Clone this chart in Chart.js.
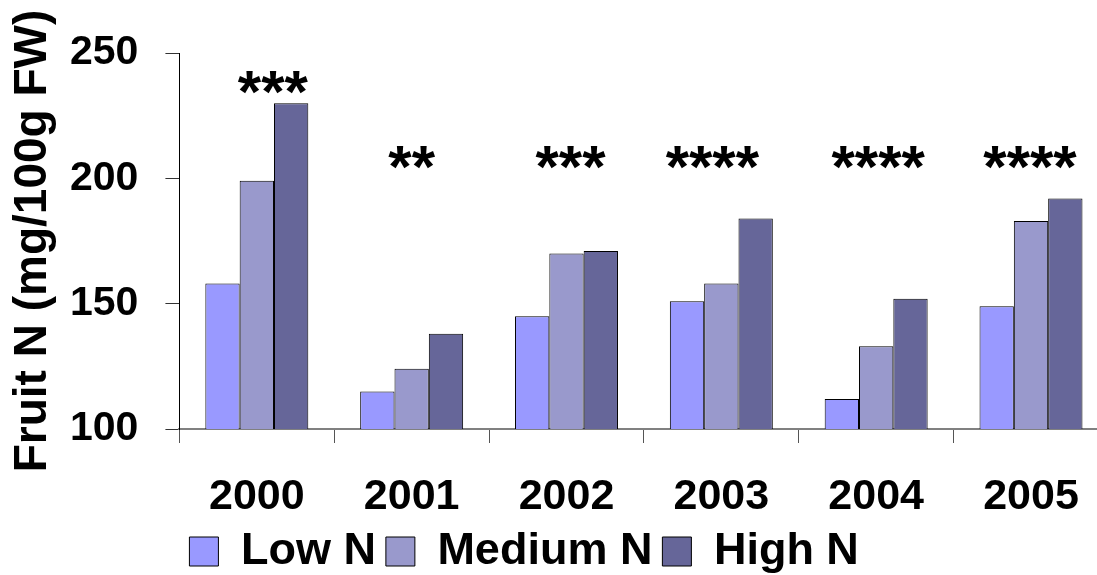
<!DOCTYPE html>
<html>
<head>
<meta charset="utf-8">
<script src="https://cdn.jsdelivr.net/npm/chart.js@4/dist/chart.umd.min.js"></script>
<style>
  html, body { margin: 0; padding: 0; background: #ffffff; overflow: hidden; }
  #wrap { width: 1097px; height: 575px; overflow: hidden; position: relative; }
  canvas { display: block; }
</style>
</head>
<body>
<div id="wrap"><canvas id="chart" width="1112" height="584"></canvas></div>
<script>
// Fruit nitrogen content by year and nitrogen treatment
const years = ['2000', '2001', '2002', '2003', '2004', '2005'];
const seriesNames = ['Low N', 'Medium N', 'High N'];
const lowN = [158, 115, 145, 151, 112, 149];
const mediumN = [199, 124, 170, 158, 133, 183];
const highN = [230, 138, 171, 184, 152, 192];
const significance = ['***', '**', '***', '****', '****', '****'];
const yTicks = [100, 150, 200, 250];

const FONT = '"Liberation Sans", Arial, Helvetica, sans-serif';

// Significance stars drawn above each year's group of bars
const starsPlugin = {
  id: 'stars',
  afterDatasetsDraw(chart, args, opts) {
    const { ctx, scales: { x, y } } = chart;
    ctx.save();
    ctx.font = 'bold 60px ' + FONT;
    ctx.fillStyle = '#000000';
    ctx.textAlign = 'center';
    ctx.textBaseline = 'alphabetic';
    const floorY = y.getPixelForValue(opts.floorValue);
    significance.forEach((s, i) => {
      const top = Math.max(lowN[i], mediumN[i], highN[i]);
      const cy = Math.min(floorY, y.getPixelForValue(top) - opts.gap);
      const cx = x.getPixelForValue(i) + (opts.nudge[i] || 0);
      // asterisk glyphs sit high in the em box; shift baseline so the glyph centre lands on cy
      ctx.fillText(s, cx, cy + 29);
    });
    ctx.restore();
  }
};

// Chart.js reserves the tick padding on both sides of the labels; keep only the inner one
function trimOuterPadding(scale) {
  const p = scale.options.ticks.padding;
  if (scale.isHorizontal()) scale.height -= p; else scale.width -= p;
}

const ctx = document.getElementById('chart').getContext('2d');
new Chart(ctx, {
  type: 'bar',
  data: {
    labels: years,
    datasets: [
      { label: seriesNames[0], data: lowN, backgroundColor: '#9999FF' },
      { label: seriesNames[1], data: mediumN, backgroundColor: '#9999CC' },
      { label: seriesNames[2], data: highN, backgroundColor: '#666699' }
    ].map(d => Object.assign(d, {
      borderColor: '#000000',
      borderWidth: 1,
      borderSkipped: 'start',
      barPercentage: 1.0,
      categoryPercentage: 0.665
    }))
  },
  options: {
    responsive: false,
    animation: false,
    devicePixelRatio: 1,
    layout: { padding: { left: 6, right: 2, top: 53, bottom: 0 } },
    scales: {
      x: {
        afterFit: trimOuterPadding,
        grid: {
          display: true,
          drawOnChartArea: false,
          drawTicks: true,
          tickLength: 14,
          color: '#555555',
          offset: true
        },
        border: { display: true, color: '#808080', width: 2 },
        ticks: {
          color: '#000000',
          padding: 33,
          font: { family: FONT, size: 43, weight: 'bold', lineHeight: 1.0 },
          maxRotation: 0,
          autoSkip: false
        }
      },
      y: {
        min: 100,
        max: 250,
        afterFit: trimOuterPadding,
        afterBuildTicks(scale) { scale.ticks = yTicks.map(v => ({ value: v })); },
        grid: {
          display: true,
          drawOnChartArea: false,
          drawTicks: true,
          tickLength: 14,
          color: '#333333'
        },
        border: { display: true, color: '#000000', width: 1 },
        ticks: {
          color: '#000000',
          padding: 27,
          font: { family: FONT, size: 41, weight: 'bold' }
        },
        title: {
          display: true,
          text: 'Fruit N (mg/100g FW)',
          color: '#000000',
          font: { family: FONT, size: 46, weight: 'bold', lineHeight: 1.0 },
          padding: { top: 4, bottom: 14 }
        }
      }
    },
    plugins: {
      legend: {
        display: true,
        position: 'bottom',
        fullSize: false,
        align: 'start',
        labels: {
          color: '#000000',
          boxWidth: 29,
          boxHeight: 29,
          padding: 10,
          font: { family: FONT, size: 45, weight: 'bold' }
        }
      },
      tooltip: { enabled: false },
      stars: { floorValue: 208, gap: 20, nudge: [16, 0, 4, -9, 2, -1] }
    }
  },
  plugins: [starsPlugin]
});
</script>
</body>
</html>
